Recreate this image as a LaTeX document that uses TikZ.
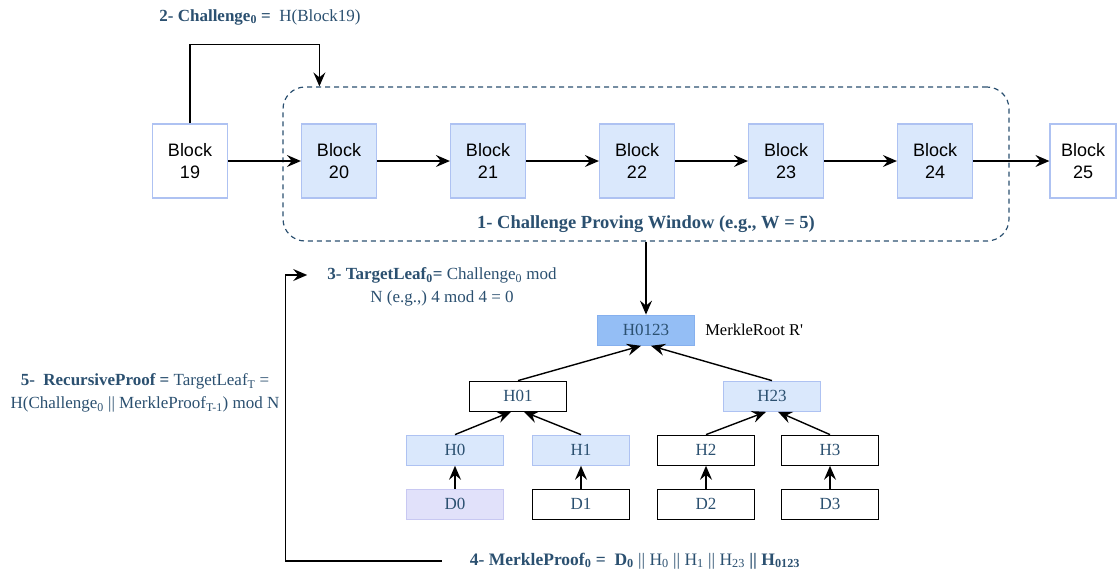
\documentclass[tikz,border=0pt]{standalone}
\usepackage{fontspec}
\setmainfont{Liberation Serif}
\newfontfamily\blockfont{Liberation Sans}
\usepackage{tikz}
\usetikzlibrary{positioning}
\usetikzlibrary{shapes.geometric, arrows.meta}

\definecolor{inkblue}{HTML}{2B5070}
\definecolor{blockfill}{HTML}{DAE8FC}
\definecolor{blockline}{HTML}{AEC2F2}
\definecolor{rootfill}{HTML}{94BEF5}
\definecolor{rootline}{HTML}{86B0EE}
\definecolor{datafill}{HTML}{E1E1FA}
\definecolor{dataline}{HTML}{C8C8F2}

\tikzstyle{block} = [rectangle, minimum width=75pt, minimum height=74pt, align=center, font=\blockfont\fontsize{18}{22}\selectfont, draw=blockline, line width=1.2pt, fill=white]
\tikzstyle{chainblock} = [block, fill=blockfill]
\tikzstyle{window} = [rectangle, rounded corners=22pt, minimum width=726pt, minimum height=154pt, draw=inkblue, line width=1.2pt, dash pattern=on 5pt off 4pt]
\tikzstyle{hash} = [rectangle, minimum width=97pt, minimum height=30pt, font=\fontsize{17}{20}\selectfont, text=inkblue, line width=1.2pt]
\tikzstyle{hashplain} = [hash, draw=black, fill=white]
\tikzstyle{hashpath} = [hash, draw=blockline, fill=blockfill]
\tikzstyle{rootnode} = [hash, draw=rootline, fill=rootfill]
\tikzstyle{datanode} = [hash, draw=dataline, fill=datafill]
\tikzstyle{steplabel} = [align=center, inner sep=2pt, text=inkblue, font=\fontsize{17}{23.5}\selectfont]
\tikzstyle{arrow} = [line width=1.4pt, -{Stealth[length=14pt,width=12pt,inset=5pt]}]

\begin{document}
\begin{tikzpicture}[node distance=149pt, x=1pt, y=1pt]
        \useasboundingbox (0,0) rectangle (1118,-571);
        % chain of blocks and the proving window
        \node (b19) [block] at (190,-161) {Block\\19};
        \node (b20) [chainblock, right of=b19] {Block\\20};
        \node (b21) [chainblock, right of=b20] {Block\\21};
        \node (b22) [chainblock, right of=b21] {Block\\22};
        \node (b23) [chainblock, right of=b22] {Block\\23};
        \node (b24) [chainblock, right of=b23] {Block\\24};
        \node (b25) [block, right of=b24, minimum width=66pt, xshift=-1pt] {Block\\25};
        \node (window) [window] at (646,-164) {};
        \node (lbl1) [steplabel, font=\fontsize{18.5}{22}\selectfont, above=7pt of window.south] {\textbf{1- Challenge Proving Window (e.g., W = 5)}};
        \node (lbl2) [steplabel] at (260,-17) {\textbf{2- Challenge\textsubscript{0} =}\ \ H(Block19)};
        % merkle tree
        \node (h0123) [rootnode, below=73pt of window] {H0123};
        \node (rootname) [right=8pt of h0123, inner sep=2pt, font=\fontsize{16.5}{19}\selectfont] {MerkleRoot R\textquotesingle};
        \node (h01) [hashplain, node distance=66pt, below of=h0123, xshift=-128pt] {H01};
        \node (h23) [hashpath, node distance=66pt, below of=h0123, xshift=126pt] {H23};
        \node (h0) [hashpath, node distance=54pt, below of=h01, xshift=-63pt] {H0};
        \node (h1) [hashpath, node distance=54pt, below of=h01, xshift=63pt] {H1};
        \node (h2) [hashplain, node distance=54pt, below of=h23, xshift=-66pt] {H2};
        \node (h3) [hashplain, node distance=54pt, below of=h23, xshift=58pt] {H3};
        \node (d0) [datanode, node distance=54pt, below of=h0] {D0};
        \node (d1) [hashplain, node distance=54pt, below of=h1] {D1};
        \node (d2) [hashplain, node distance=54pt, below of=h2] {D2};
        \node (d3) [hashplain, node distance=54pt, below of=h3] {D3};
        % step labels
        \node (lbl3) [steplabel] at (442,-287) {\textbf{3- TargetLeaf\textsubscript{0}=} Challenge\textsubscript{0} mod\\N (e.g.,) 4 mod 4 = 0};
        \node (lbl4) [steplabel, font=\fontsize{17.5}{22}\selectfont] at (635,-561) {\textbf{4- MerkleProof\textsubscript{0} =\ \ D\textsubscript{0}} || H\textsubscript{0} || H\textsubscript{1} || H\textsubscript{23} \textbf{|| H\textsubscript{0123}}};
        \node (lbl5) [steplabel] at (145,-393) {\textbf{5-\ \ RecursiveProof =} TargetLeaf\textsubscript{T} =\\H(Challenge\textsubscript{0} || MerkleProof\textsubscript{T-1}) mod N};
        \coordinate (leafin) at ([xshift=-18pt, yshift=12pt]lbl3.west);
        % connectors
        \draw [arrow] (b19) -- (b20);
        \draw [arrow] (b20) -- (b21);
        \draw [arrow] (b21) -- (b22);
        \draw [arrow] (b22) -- (b23);
        \draw [arrow] (b23) -- (b24);
        \draw [arrow] (b24) -- (b25);
        \draw [arrow] (b19.north) -- ++(0,79) -| ([xshift=37pt]window.north west);
        \draw [arrow] (window.south) -- (h0123);
        \draw [arrow] (h01.north) -- ([xshift=-5pt]h0123.south);
        \draw [arrow] (h23.north) -- ([xshift=5pt]h0123.south);
        \draw [arrow] (h0.north) -- ([xshift=-7pt]h01.south);
        \draw [arrow] (h1.north) -- ([xshift=6pt]h01.south);
        \draw [arrow] (h2.north) -- ([xshift=-6pt]h23.south);
        \draw [arrow] (h3.north) -- ([xshift=6pt]h23.south);
        \draw [arrow] (d0) -- (h0);
        \draw [arrow] (d1) -- (h1);
        \draw [arrow] (d2) -- (h2);
        \draw [arrow] (d3) -- (h3);
        \draw [arrow] ([xshift=-26pt]lbl4.west) -- ++(-156,0) |- (leafin);
\end{tikzpicture}
\end{document}
